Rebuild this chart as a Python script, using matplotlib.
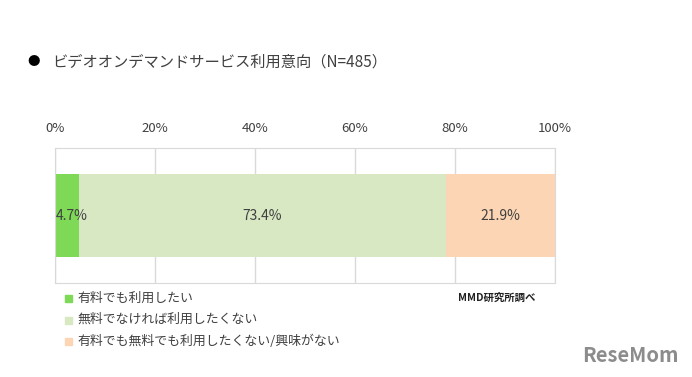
import matplotlib.pyplot as plt
import matplotlib.patches as mpatches

plt.rcParams['font.family'] = ['Noto Sans CJK JP', 'DejaVu Sans']

# データ
title = 'ビデオオンデマンドサービス利用意向（N=485）'
categories = ['有料でも利用したい', '無料でなければ利用したくない', '有料でも無料でも利用したくない/興味がない']
values = [4.7, 73.4, 21.9]
colors = ['#7ED957', '#D7E8C3', '#FCD5B4']
ticks = [0, 20, 40, 60, 80, 100]
source = 'MMD研究所調べ'

W, H = 692, 377
fig = plt.figure(figsize=(W / 100, H / 100), dpi=100)
ax = fig.add_axes([55 / W, 1 - 283 / H, 500 / W, 135 / H])

left = 0
for v, c in zip(values, colors):
    ax.barh(0, v, left=left, height=0.62, color=c, zorder=2)
    left += v

# ラベル
left = 0
for i, v in enumerate(values):
    x = left + v / 2 if i > 0 else left + 0.2
    ha = 'center' if i > 0 else 'left'
    ax.text(x, 0, f'{v}%', ha=ha, va='center', fontsize=10, color='#404040', zorder=3)
    left += v

ax.set_xlim(0, 100)
ax.set_ylim(-0.5, 0.5)
ax.set_xticks(ticks)
ax.set_xticklabels([f'{t}%' for t in ticks], fontsize=9.5, color='#404040')
ax.xaxis.tick_top()
ax.tick_params(axis='x', length=0, pad=9)
ax.set_yticks([])
ax.grid(axis='x', color='#D9D9D9', linewidth=1, zorder=0)
for s in ax.spines.values():
    s.set_color('#D9D9D9')

# タイトル
fig.text(27 / W, 1 - 62 / H, '●', fontsize=9, color='black', va='center')
fig.text(52 / W, 1 - 62 / H, title, fontsize=11, color='#404040', va='center')

# 凡例
for i, (cat, c) in enumerate(zip(categories, colors)):
    y = 1 - (298 + i * 21.5) / H
    fig.patches.append(mpatches.Rectangle((65 / W, y - 4 / H), 7 / W, 7 / H,
                                          transform=fig.transFigure, color=c))
    fig.text(77 / W, y, cat, fontsize=9.3, color='#404040', va='center')

fig.text(458 / W, 1 - 298 / H, source, fontsize=7.5, color='#222222', va='center', fontweight='bold')
fig.text(582 / W, 1 - 355 / H, 'ReseMom', fontsize=14.5, color='#8C8C8C', va='center', fontweight='bold')

fig.savefig('out.png', dpi=100)
